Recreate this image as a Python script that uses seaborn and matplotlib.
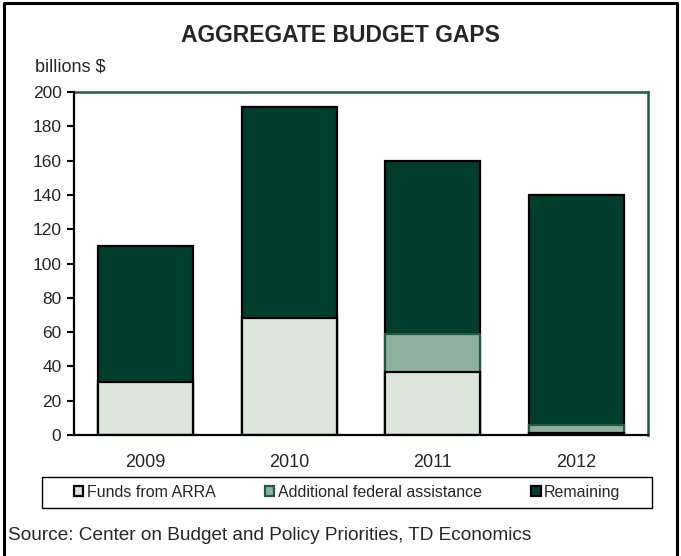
import matplotlib
matplotlib.use("Agg")
import matplotlib.pyplot as plt
from matplotlib.patches import Patch, Rectangle
from matplotlib.lines import Line2D
import seaborn as sns
import pandas as pd

# Budget gap components, billions of dollars
years = ["2009", "2010", "2011", "2012"]
arra = [31, 68, 37, 1]
additional = [0, 0, 22, 5]
remaining = [79, 123, 101, 134]
yticks = list(range(0, 201, 20))

c_arra = "#DCE5DC"
c_add = "#8FAF9F"
c_rem = "#003D2D"
c_edge_green = "#1E5A46"

sns.set_theme(style="white")
plt.rcParams["font.family"] = ["Liberation Sans", "DejaVu Sans"]

df = pd.DataFrame({"year": years, "arra": arra, "additional": additional, "remaining": remaining})
df["lower"] = df["arra"] + df["additional"]
df["total"] = df["lower"] + df["remaining"]

W, H = 681, 556
fig = plt.figure(figsize=(W / 100, H / 100), dpi=100)
ax = fig.add_axes([74 / W, 1 - 435 / H, (648 - 74) / W, (435 - 92) / H])

w = 0.66
# stacked bars drawn as overlapping cumulative layers
sns.barplot(data=df, x="year", y="total", color=c_rem, saturation=1, width=w,
            edgecolor="black", linewidth=1.6, ax=ax)
sns.barplot(data=df, x="year", y="lower", color=c_add, saturation=1, width=w,
            edgecolor=c_edge_green, linewidth=1.6, ax=ax)
sns.barplot(data=df, x="year", y="arra", color=c_arra, saturation=1, width=w,
            edgecolor="black", linewidth=1.6, ax=ax)

ax.set_xlim(-0.5, 3.5)
ax.set_ylim(0, 200)
ax.set_yticks(yticks)
ax.set_yticklabels([str(v) for v in yticks], fontsize=12.5)
ax.set_xlabel("")
ax.set_ylabel("")
ax.set_xticks(range(len(years)))
ax.set_xticklabels(years, fontsize=13)
ax.set_xticks([i - 0.5 for i in range(len(years) + 1)], minor=True)
ax.tick_params(axis="x", which="major", length=0, pad=14)
ax.tick_params(axis="x", which="minor", length=6, width=1.5, color="black", direction="out")
ax.tick_params(axis="y", length=5, width=1.5, color="black", direction="out", pad=4, left=True)

for s in ["left", "bottom"]:
    ax.spines[s].set_color("black")
    ax.spines[s].set_linewidth(1.6)
for s in ["top", "right"]:
    ax.spines[s].set_color(c_edge_green)
    ax.spines[s].set_linewidth(1.8)
ax.spines["left"].set_zorder(5)
ax.spines["bottom"].set_zorder(5)

fig.text(340 / W, 1 - 35 / H, "AGGREGATE BUDGET GAPS", ha="center", va="center",
         fontsize=16.5, fontweight="bold")
fig.text(35 / W, 1 - 67 / H, "billions $", ha="left", va="center", fontsize=13)
fig.text(8 / W, 1 - 535 / H, "Source: Center on Budget and Policy Priorities, TD Economics",
         ha="left", va="center", fontsize=13.7)

# legend box
fig.add_artist(Rectangle((42 / W, 1 - 508 / H), 610 / W, 31 / H, transform=fig.transFigure,
                         facecolor="white", edgecolor="black", linewidth=1.0, zorder=2))
handles = [
    Patch(facecolor=c_arra, edgecolor="black", linewidth=1.6, label="Funds from ARRA"),
    Patch(facecolor=c_add, edgecolor=c_edge_green, linewidth=1.6, label="Additional federal assistance"),
    Patch(facecolor=c_rem, edgecolor="black", linewidth=1.6, label="Remaining"),
]
leg = fig.legend(handles=handles, ncol=3, loc="center",
                 bbox_to_anchor=(347 / W, 1 - 492.5 / H),
                 fontsize=11.5, frameon=False, handlelength=0.6, handleheight=0.6,
                 handletextpad=0.2, columnspacing=3.1, borderpad=0)
leg.set_zorder(3)

# outer frame: left, top and right edges
fig.add_artist(Line2D([4 / W, 4 / W, 677 / W, 677 / W],
                      [0, 1 - 3 / H, 1 - 3 / H, 0],
                      transform=fig.transFigure, color="black", linewidth=2.2))

fig.savefig("out.png", dpi=100)
